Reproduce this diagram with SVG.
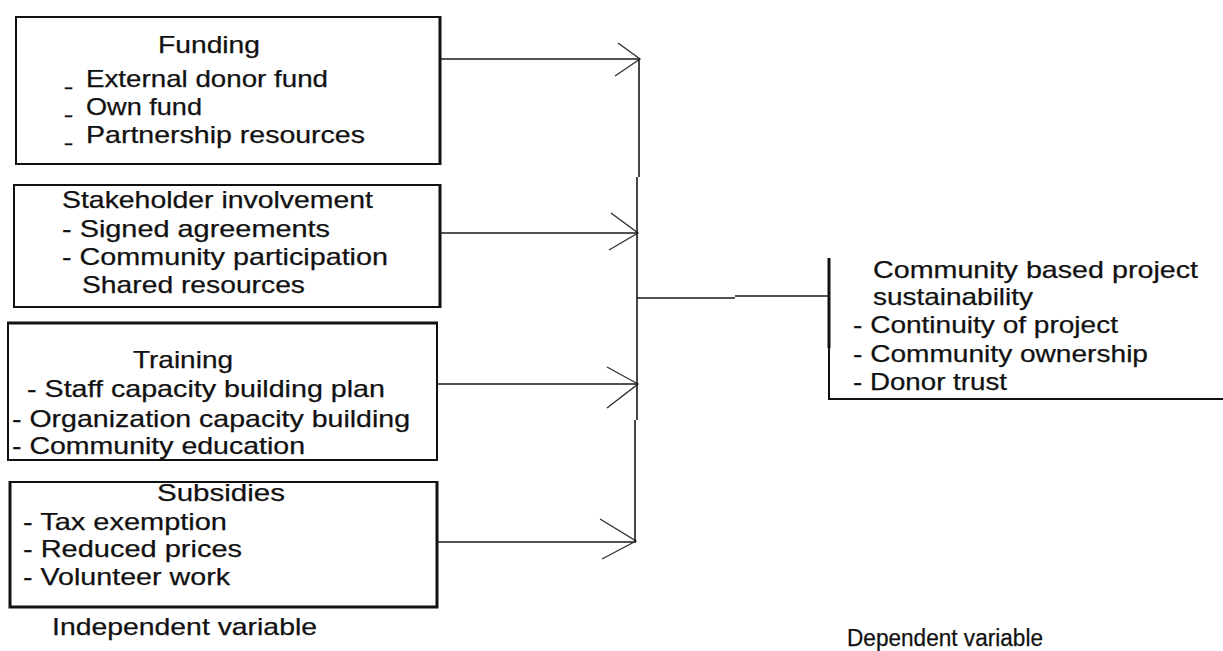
<svg xmlns="http://www.w3.org/2000/svg" width="1223" height="651" viewBox="0 0 1223 651">
<style>
.box{fill:#fff;stroke:#111;stroke-width:2}
.edge{fill:none;stroke:#111;stroke-width:3}
.t{font-family:"Liberation Sans",Arial,sans-serif;font-size:24px;fill:#111;stroke:#111;stroke-width:0.25}
.s{font-size:23px}
.c{fill:none;stroke:#1a1a1a;stroke-width:1.6}
.h{fill:none;stroke:#333;stroke-width:1.4}
</style>
<rect width="1223" height="651" fill="#fff"/>
<g id="funding">
<rect class="box" x="16" y="17" width="424" height="147"/>
<line class="edge" x1="440" y1="16" x2="440" y2="165"/>
<text class="t" x="158" y="53" textLength="102" lengthAdjust="spacingAndGlyphs">Funding</text>
<text class="t" x="65" y="84" textLength="7" lengthAdjust="spacingAndGlyphs">_</text>
<text class="t" x="86" y="87" textLength="242" lengthAdjust="spacingAndGlyphs">External donor fund</text>
<text class="t" x="65" y="112" textLength="7" lengthAdjust="spacingAndGlyphs">_</text>
<text class="t" x="86" y="115" textLength="116" lengthAdjust="spacingAndGlyphs">Own fund</text>
<text class="t" x="65" y="140" textLength="7" lengthAdjust="spacingAndGlyphs">_</text>
<text class="t" x="86" y="143" textLength="279" lengthAdjust="spacingAndGlyphs">Partnership resources</text>
</g>
<g id="stakeholder">
<rect class="box" x="14" y="185" width="426" height="122"/>
<line class="edge" x1="440" y1="184" x2="440" y2="308"/>
<text class="t" x="62" y="208" textLength="311" lengthAdjust="spacingAndGlyphs">Stakeholder involvement</text>
<text class="t" x="62" y="237" textLength="268" lengthAdjust="spacingAndGlyphs">- Signed agreements</text>
<text class="t" x="62" y="265" textLength="326" lengthAdjust="spacingAndGlyphs">- Community participation</text>
<text class="t" x="82" y="293" textLength="223" lengthAdjust="spacingAndGlyphs">Shared resources</text>
</g>
<g id="training">
<rect class="box" x="8" y="323" width="429" height="137"/>
<line class="edge" x1="7" y1="323" x2="438" y2="323"/>
<text class="t" x="133" y="368" textLength="100" lengthAdjust="spacingAndGlyphs">Training</text>
<text class="t" x="27" y="397" textLength="358" lengthAdjust="spacingAndGlyphs">- Staff capacity building plan</text>
<text class="t" x="12" y="427" textLength="398" lengthAdjust="spacingAndGlyphs">- Organization capacity building</text>
<text class="t" x="12" y="454" textLength="293" lengthAdjust="spacingAndGlyphs">- Community education</text>
</g>
<g id="subsidies">
<rect class="box" x="10" y="482" width="427" height="125"/>
<path class="edge" d="M10,481 V607 H437 V481"/>
<text class="t" x="157" y="501" textLength="128" lengthAdjust="spacingAndGlyphs">Subsidies</text>
<text class="t" x="23" y="530" textLength="204" lengthAdjust="spacingAndGlyphs">- Tax exemption</text>
<text class="t" x="23" y="557" textLength="219" lengthAdjust="spacingAndGlyphs">- Reduced prices</text>
<text class="t" x="23" y="585" textLength="207" lengthAdjust="spacingAndGlyphs">- Volunteer work</text>
</g>
<g id="independent-label">
<text class="t" x="52" y="635" textLength="265" lengthAdjust="spacingAndGlyphs">Independent variable</text>
</g>
<g id="dependent">
<path class="edge" d="M829,258 V348"/>
<path class="box" style="fill:none" d="M829,258 V399 H1223"/>
<text class="t" x="873" y="278" textLength="325" lengthAdjust="spacingAndGlyphs">Community based project</text>
<text class="t" x="873" y="305" textLength="160" lengthAdjust="spacingAndGlyphs">sustainability</text>
<text class="t" x="853" y="333" textLength="265" lengthAdjust="spacingAndGlyphs">- Continuity of project</text>
<text class="t" x="853" y="362" textLength="295" lengthAdjust="spacingAndGlyphs">- Community ownership</text>
<text class="t" x="853" y="390" textLength="154" lengthAdjust="spacingAndGlyphs">- Donor trust</text>
</g>
<g id="dependent-label">
<text class="t s" x="847" y="646" textLength="196" lengthAdjust="spacingAndGlyphs">Dependent variable</text>
</g>
<g id="connectors">
<path class="c" d="M440,59 H640"/>
<path class="h" d="M618,43 L640,59 L615,76"/>
<path class="c" d="M440,233 H638"/>
<path class="h" d="M611,213 L638,233 L609,250"/>
<path class="c" d="M437,384 H638"/>
<path class="h" d="M607,367 L638,384 L607,408"/>
<path class="c" d="M437,542 H636"/>
<path class="h" d="M600,519 L636,541 L602,559"/>
<path class="c" d="M639,59 V177 M637,177 V420 M635,420 V542"/>
<path class="c" d="M637,298 H735 M735,296 H829"/>
</g>
</svg>
